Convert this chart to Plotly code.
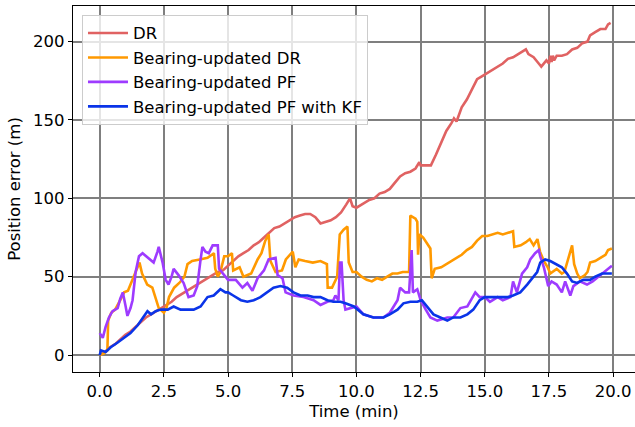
import plotly.graph_objects as go

# ---- data ----
dr_t = [0.0, 0.2, 0.4, 0.6, 0.8, 1.0, 1.2, 1.4, 1.6, 1.8, 2.0, 2.2, 2.4, 2.6, 2.8, 3.0, 3.2, 3.4, 3.6, 3.8,
        4.0, 4.2, 4.4, 4.6, 4.8, 5.0, 5.2, 5.4, 5.6, 5.8, 6.0, 6.2, 6.4, 6.6, 6.8, 7.0, 7.2, 7.4, 7.6, 7.8,
        8.0, 8.2, 8.4, 8.6, 8.8, 9.0, 9.2, 9.4, 9.6, 9.75, 9.85, 10.0, 10.2, 10.5, 10.7, 10.9, 11.1, 11.3,
        11.5, 11.7, 11.9, 12.1, 12.3, 12.45, 12.5, 12.7, 12.9, 13.1, 13.3, 13.5, 13.7, 13.8, 13.9, 14.1,
        14.3, 14.5, 14.7, 14.9, 15.1, 15.3, 15.5, 15.7, 15.9, 16.1, 16.3, 16.5, 16.6, 16.7, 16.9, 17.1,
        17.2, 17.4, 17.5, 17.55, 17.6, 17.65, 17.7, 17.8, 18.0, 18.2, 18.4, 18.6, 18.8, 19.0, 19.1, 19.3,
        19.5, 19.7, 19.8, 19.9]
dr_v = [0, 2, 5, 7, 10, 13, 15, 18, 21, 24, 26, 28, 30, 32, 34, 37, 39, 41, 43, 45,
        47, 49, 51, 53, 54, 57, 60, 63, 65, 67, 70, 72, 75, 78, 81, 82, 84, 86, 88, 89,
        90, 90, 88, 84, 85, 86, 88, 91, 96, 100, 95, 94, 96, 99, 100, 103, 104, 106,
        110, 114, 116, 117, 119, 123, 121, 121, 121, 128, 136, 143, 148, 151, 149, 158,
        163, 170, 176, 178, 180, 182, 184, 186, 189, 190, 192, 194, 195, 192, 190, 186,
        184, 188, 186, 191, 187, 191, 188, 191, 191, 192, 195, 196, 199, 200, 204, 206,
        208, 208, 211, 212]

bdr_t = [0.0, 0.15, 0.3, 0.33, 0.45, 0.6, 0.8, 0.95, 1.1, 1.3, 1.42, 1.55, 1.65, 1.85, 2.05, 2.2, 2.3, 2.5,
         2.6, 2.7, 2.9, 3.1, 3.3, 3.42, 3.6, 3.9, 4.2, 4.45, 4.5, 4.6, 4.7, 4.85, 5.0, 5.15, 5.2, 5.45,
         5.6, 5.9, 6.0, 6.15, 6.3, 6.45, 6.58, 6.65, 6.85, 7.1, 7.25, 7.45, 7.52, 7.62, 7.75, 8.0, 8.3,
         8.6, 8.85, 8.88, 9.05, 9.25, 9.35, 9.5, 9.65, 9.7, 9.85, 10.0, 10.2, 10.4, 10.6, 10.8, 11.0,
         11.2, 11.4, 11.6, 11.8, 12.05, 12.1, 12.3, 12.37, 12.4, 12.45, 12.6, 12.8, 12.88, 12.93, 13.05,
         13.3, 13.5, 13.7, 13.9, 14.1, 14.3, 14.5, 14.7, 14.9, 15.1, 15.3, 15.5, 15.7, 15.9, 16.1, 16.15,
         16.4, 16.6, 16.75, 16.9, 17.05, 17.15, 17.3, 17.45, 17.55, 17.8, 18.0, 18.1, 18.25, 18.4, 18.48,
         18.6, 18.7, 18.9, 19.0, 19.1, 19.3, 19.5, 19.7, 19.8, 19.95]
bdr_v = [0, 1, 3, 22, 27, 29, 35, 40, 41, 49, 53, 59, 52, 45, 43, 35, 30, 27,
         30, 37, 43, 46, 50, 58, 60, 61, 62, 65, 55, 50, 53, 63, 63, 65, 54, 56,
         50, 52, 56, 61, 65, 73, 77, 60, 53, 54, 61, 65, 66, 56, 61, 60, 59,
         60, 58, 43, 43, 50, 77, 80, 82, 59, 53, 53, 50, 48, 47, 49, 48,
         50, 52, 52, 53, 53, 89, 87, 85, 64, 77, 75, 70, 68, 49, 55,
         56, 58, 60, 62, 64, 67, 69, 73, 76, 76, 77, 78, 77, 78, 79, 69,
         70, 72, 74, 70, 74, 66, 60, 56, 52, 55, 52, 53, 61, 70, 58,
         52, 49, 51, 53, 59, 60, 62, 64, 67, 68]

pf_t = [0.0, 0.12, 0.23, 0.36, 0.5, 0.7, 0.8, 0.9, 1.0, 1.08, 1.2, 1.28, 1.4, 1.53, 1.67, 1.8, 1.9, 2.1,
        2.25, 2.3, 2.45, 2.57, 2.68, 2.8, 2.88, 3.07, 3.27, 3.46, 3.66, 3.8, 3.93, 4.0, 4.12, 4.25, 4.4,
        4.6, 4.65, 4.83, 5.0, 5.3, 5.56, 5.75, 5.95, 6.15, 6.4, 6.58, 6.85, 6.93, 7.12, 7.24, 7.55, 7.94,
        8.33, 8.6, 8.87, 9.1, 9.18, 9.3, 9.36, 9.42, 9.5, 9.57, 9.77, 10.0, 10.27, 10.66, 11.05, 11.3,
        11.6, 11.7, 11.9, 12.05, 12.15, 12.2, 12.37, 12.5, 12.7, 12.88, 13.15, 13.54, 13.77, 14.05,
        14.32, 14.63, 14.8, 15.0, 15.2, 15.5, 15.7, 16.0, 16.1, 16.25, 16.45, 16.65, 16.77, 16.96,
        17.1, 17.16, 17.3, 17.47, 17.6, 17.8, 18.0, 18.13, 18.33, 18.45, 18.7, 18.98, 19.2, 19.5,
        19.76, 19.95]
pf_v = [14, 11, 18, 24, 28, 30, 36, 40, 32, 25, 30, 35, 53, 63, 65, 63, 62, 59,
        66, 69, 59, 48, 45, 50, 55, 51, 46, 37, 38, 44, 61, 69, 66, 65, 70,
        70, 55, 51, 48, 48, 43, 46, 41, 49, 54, 61, 62, 51, 49, 40, 38, 37,
        35, 32, 34, 35, 38, 35, 59, 59, 35, 29, 30, 31, 26, 24, 24, 27,
        35, 43, 40, 40, 67, 40, 42, 35, 29, 24, 22, 24, 24, 30,
        31, 40, 37, 37, 34, 37, 35, 37, 47, 40, 52, 56, 61, 65,
        67, 63, 56, 44, 47, 45, 40, 47, 38, 44, 47, 45, 47, 51,
        55, 57]

kf_t = [0.0, 0.05, 0.23, 0.43, 0.7, 0.94, 1.2, 1.48, 1.7, 1.86, 2.0, 2.18, 2.37, 2.65, 2.88, 3.15, 3.42,
        3.66, 3.93, 4.2, 4.44, 4.7, 4.9, 5.0, 5.2, 5.5, 5.75, 6.0, 6.26, 6.54, 6.77, 7.04, 7.3, 7.55,
        7.82, 8.1, 8.33, 8.6, 8.87, 9.1, 9.38, 9.57, 9.77, 9.9, 10.27, 10.66, 11.05, 11.3, 11.6, 11.83,
        12.1, 12.37, 12.55, 12.76, 13.0, 13.27, 13.54, 13.77, 14.05, 14.32, 14.55, 14.8, 15.0, 15.2,
        15.6, 15.9, 16.1, 16.38, 16.65, 16.9, 17.04, 17.16, 17.35, 17.55, 17.8, 18.0, 18.2, 18.4, 18.6,
        18.83, 19.1, 19.3, 19.57, 19.95]
kf_v = [0, 3, 2, 5, 8, 11, 14, 19, 24, 28, 26, 28, 29, 29, 31, 29, 29,
        29, 31, 37, 38, 42, 40, 40, 38, 35, 34, 35, 37, 40, 43, 44, 43, 40,
        38, 38, 37, 37, 35, 34, 34, 33, 32, 31, 26, 24, 24, 26, 29, 33,
        34, 34, 35, 31, 26, 24, 22, 24, 24, 26, 29, 35, 37, 37,
        37, 37, 38, 40, 45, 50, 53, 59, 61, 60, 58, 56, 52, 47, 46,
        48, 48, 50, 52, 52]

series_names = ["DR", "Bearing-updated DR", "Bearing-updated PF", "Bearing-updated PF with KF"]
x_ticks = [0, 2.5, 5, 7.5, 10, 12.5, 15, 17.5, 20]
x_tick_labels = ["0.0", "2.5", "5.0", "7.5", "10.0", "12.5", "15.0", "17.5", "20.0"]
y_ticks = [0, 50, 100, 150, 200]
y_tick_labels = ["0", "50", "100", "150", "200"]

colors = ["#e06262", "#ff9900", "#9e3bff", "#0a34e8"]
FONT = "DejaVu Sans"
FS = 16.5

fig = go.Figure()
for name, t, v, c in zip(series_names, [dr_t, bdr_t, pf_t, kf_t], [dr_v, bdr_v, pf_v, kf_v], colors):
    fig.add_trace(go.Scatter(x=t, y=v, mode="lines", name=name,
                             line=dict(color=c, width=2.6)))

fig.update_layout(
    width=635, height=427,
    margin=dict(l=73, r=0, t=6, b=55, autoexpand=False),
    paper_bgcolor="white", plot_bgcolor="white",
    font=dict(family=FONT, size=FS, color="black"),
    showlegend=True,
    legend=dict(x=0.016, y=0.976, xanchor="left", yanchor="top",
                itemwidth=40, tracegroupgap=0,
                bgcolor="rgba(255,255,255,0.8)", bordercolor="#cccccc", borderwidth=1,
                font=dict(family=FONT, size=FS, color="black")),
    xaxis=dict(range=[-1.04, 20.85], tickvals=x_ticks, ticktext=x_tick_labels,
               automargin=False,
               showgrid=True, gridcolor="#7f7f7f", gridwidth=1.6,
               showline=True, linecolor="black", linewidth=1.2, mirror=True,
               ticks="outside", ticklen=4, tickcolor="black", zeroline=False,
               tickfont=dict(size=FS),
               title=dict(text="Time (min)", font=dict(size=FS, family=FONT), standoff=5)),
    yaxis=dict(range=[-10.8, 222.7], tickvals=y_ticks, ticktext=y_tick_labels,
               automargin=False,
               showgrid=True, gridcolor="#7f7f7f", gridwidth=1.6,
               showline=True, linecolor="black", linewidth=1.2, mirror=False,
               ticks="outside", ticklen=4, tickcolor="black", zeroline=False,
               tickfont=dict(size=FS),
               title=dict(text="Position error (m)", font=dict(size=FS, family=FONT), standoff=8)),
)

fig.write_html("out.html", config={"displayModeBar": False},
               post_script="document.body.style.margin='0';document.body.style.padding='0';")
